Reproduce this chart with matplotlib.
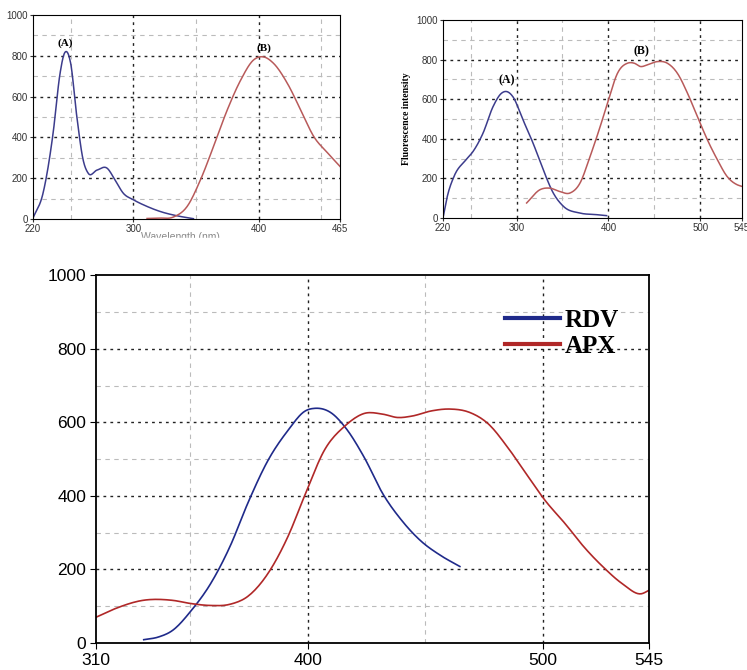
import numpy as np
import matplotlib
matplotlib.use('Agg')
import matplotlib.pyplot as plt
from matplotlib.patches import Rectangle

# ---- data ----
# top-left panel: (A) absorption, (B) emission
tl_a_x = [220, 228, 236, 241.6, 245, 250, 255, 260, 264, 271, 279, 285.6, 292, 300, 311, 321.6, 335, 348]
tl_a_y = [5, 127, 420, 715, 812, 765, 500, 290, 225, 240, 250, 190, 127, 95, 62, 37, 16, 2]
tl_b_x = [311, 320, 332, 343, 353.6, 364, 375, 385.6, 396, 404, 412, 423, 433.6, 444, 455, 465]
tl_b_y = [3, 5, 10, 62, 192, 355, 535, 680, 780, 795, 763, 665, 535, 405, 325, 258]

# top-right panel
tr_a_x = [220, 224.7, 232, 245, 252.7, 263.6, 274.5, 283.6, 289, 296, 307, 318, 329, 340, 351, 369, 387, 398]
tr_a_y = [0, 109, 210, 294, 336, 429, 563, 630, 639, 613, 496, 378, 244, 126, 59, 25, 17, 12]
tr_b_x = [311, 325.5, 336, 347, 358, 369, 380, 391, 400, 409.8, 420.7, 428, 435, 442, 453, 464,
          475, 486, 496.7, 507.6, 518.5, 529, 540, 545]
tr_b_y = [76, 143, 151, 134, 126, 176, 311, 462, 597, 731, 782, 782, 765, 773, 790, 782,
          731, 630, 513, 395, 294, 210, 168, 160]

# bottom panel
rdv_x = [330.3, 336.4, 342.5, 350.6, 358.7, 366.8, 375, 383, 391.5, 399, 403, 409.9, 416, 424,
         432, 440, 448, 456.5, 464.7]
rdv_y = [9, 16, 34, 89, 161, 260, 387, 495, 577, 631, 638, 626, 586, 505, 405, 333, 278, 238, 208]
apx_x = [310, 318, 330, 342.5, 350.6, 358.7, 366.8, 375, 383, 391.5, 399, 407, 416, 424, 432,
         438.3, 444.4, 452.6, 460.7, 468.8, 476.9, 485, 493, 501, 509.5, 517.6, 525.7, 533.8,
         542, 545]
apx_y = [70, 93, 116, 116, 107, 102, 105, 129, 188, 288, 405, 523, 591, 624, 622, 613, 617, 631,
         636, 627, 595, 532, 459, 387, 324, 260, 206, 161, 134, 143]


def smooth(x, y, n=300):
    # cubic hermite through the read points (numpy only)
    x = np.asarray(x, float); y = np.asarray(y, float)
    xs = np.linspace(x[0], x[-1], n)
    d = np.gradient(y, x)
    i = np.clip(np.searchsorted(x, xs) - 1, 0, len(x) - 2)
    h = x[i + 1] - x[i]
    t = (xs - x[i]) / h
    h00 = 2*t**3 - 3*t**2 + 1; h10 = t**3 - 2*t**2 + t
    h01 = -2*t**3 + 3*t**2; h11 = t**3 - t**2
    return xs, h00*y[i] + h10*h*d[i] + h01*y[i+1] + h11*h*d[i+1]


def grid(ax, major_x, minor_x):
    for v in major_x:
        ax.axvline(v, color='#222222', ls=(0, (2, 3)), lw=1.0, zorder=0)
    for v in minor_x:
        ax.axvline(v, color='#bbbbbb', ls=(0, (4, 4)), lw=0.8, zorder=0)
    for v in [200, 400, 600, 800]:
        ax.axhline(v, color='#222222', ls=(0, (2, 3)), lw=1.0, zorder=0)
    for v in [100, 300, 500, 700, 900]:
        ax.axhline(v, color='#bbbbbb', ls=(0, (4, 4)), lw=0.8, zorder=0)


plt.rcParams['font.family'] = ['Liberation Sans', 'DejaVu Sans']
fig = plt.figure(figsize=(7.47, 6.70), dpi=100)
serif = ['Liberation Serif', 'DejaVu Serif']

# ---- top-left ----
ax1 = fig.add_axes([0.0442, 0.673, 0.411, 0.3045])
grid(ax1, [300, 400], [250, 350, 450])
ax1.plot(*smooth(tl_a_x, tl_a_y), color='#3c3c8c', lw=1.1)
ax1.plot(*smooth(tl_b_x, tl_b_y), color='#b85a5a', lw=1.1)
ax1.set_xlim(220, 465); ax1.set_ylim(0, 1000)
ax1.set_xticks([220, 300, 400, 465])
ax1.set_yticks(range(0, 1001, 200))
ax1.tick_params(labelsize=7, length=2, pad=1.5, colors='#333333')
ax1.text(246, 850, '(A)', fontsize=8, fontweight='bold', family=serif, ha='center')
ax1.text(404, 825, '(B)', fontsize=8, fontweight='bold', family=serif, ha='center')
ax1.text(338, -88, 'Wavelength (nm)', fontsize=7.5, color='#888888', ha='center', va='center',
         clip_on=False)

# ---- top-right ----
ax2 = fig.add_axes([0.593, 0.6746, 0.400, 0.2955])
grid(ax2, [300, 400, 500], [250, 350, 450])
ax2.plot(*smooth(tr_a_x, tr_a_y), color='#3c3c8c', lw=1.1)
ax2.plot(*smooth(tr_b_x, tr_b_y), color='#b85a5a', lw=1.1)
ax2.set_xlim(220, 545); ax2.set_ylim(0, 1000)
ax2.set_xticks([220, 300, 400, 500, 545])
ax2.set_yticks(range(0, 1001, 200))
ax2.tick_params(labelsize=7, length=2, pad=1.5, colors='#333333')
ax2.set_ylabel('Fluorescence intensity', fontsize=7, fontweight='bold', family=serif, labelpad=4)
ax2.text(289, 680, '(A)', fontsize=8.5, fontweight='bold', family=serif, ha='center')
ax2.text(436, 825, '(B)', fontsize=8.5, fontweight='bold', family=serif, ha='center')

# ---- bottom ----
ax3 = fig.add_axes([0.1285, 0.0403, 0.740, 0.549])
grid(ax3, [400, 500], [350, 450])
ax3.plot(*smooth(rdv_x, rdv_y), color='#1f2a8a', lw=1.2, label='RDV')
ax3.plot(*smooth(apx_x, apx_y), color='#b02828', lw=1.2, label='APX')
ax3.set_xlim(310, 545); ax3.set_ylim(0, 1000)
ax3.set_xticks([310, 400, 500, 545])
ax3.set_yticks(range(0, 1001, 200))
ax3.tick_params(labelsize=12.5, length=4, pad=3)
for s in ax3.spines.values():
    s.set_linewidth(1.3)
leg = ax3.legend(loc='upper left', frameon=False,
                 prop={'family': serif, 'weight': 'bold', 'size': 18},
                 handlelength=2.2, handletextpad=0.2, labelspacing=0.1, borderpad=0,
                 bbox_to_anchor=(0.717, 0.942))
for h in leg.get_lines():
    h.set_linewidth(3)

# crop the lower part of the top-left axis label like the source image
fig.patches.append(Rectangle((0, 0.605), 1, 0.04, transform=fig.transFigure,
                             color='white', zorder=10))

fig.savefig('out.png', dpi=100, facecolor='white')
